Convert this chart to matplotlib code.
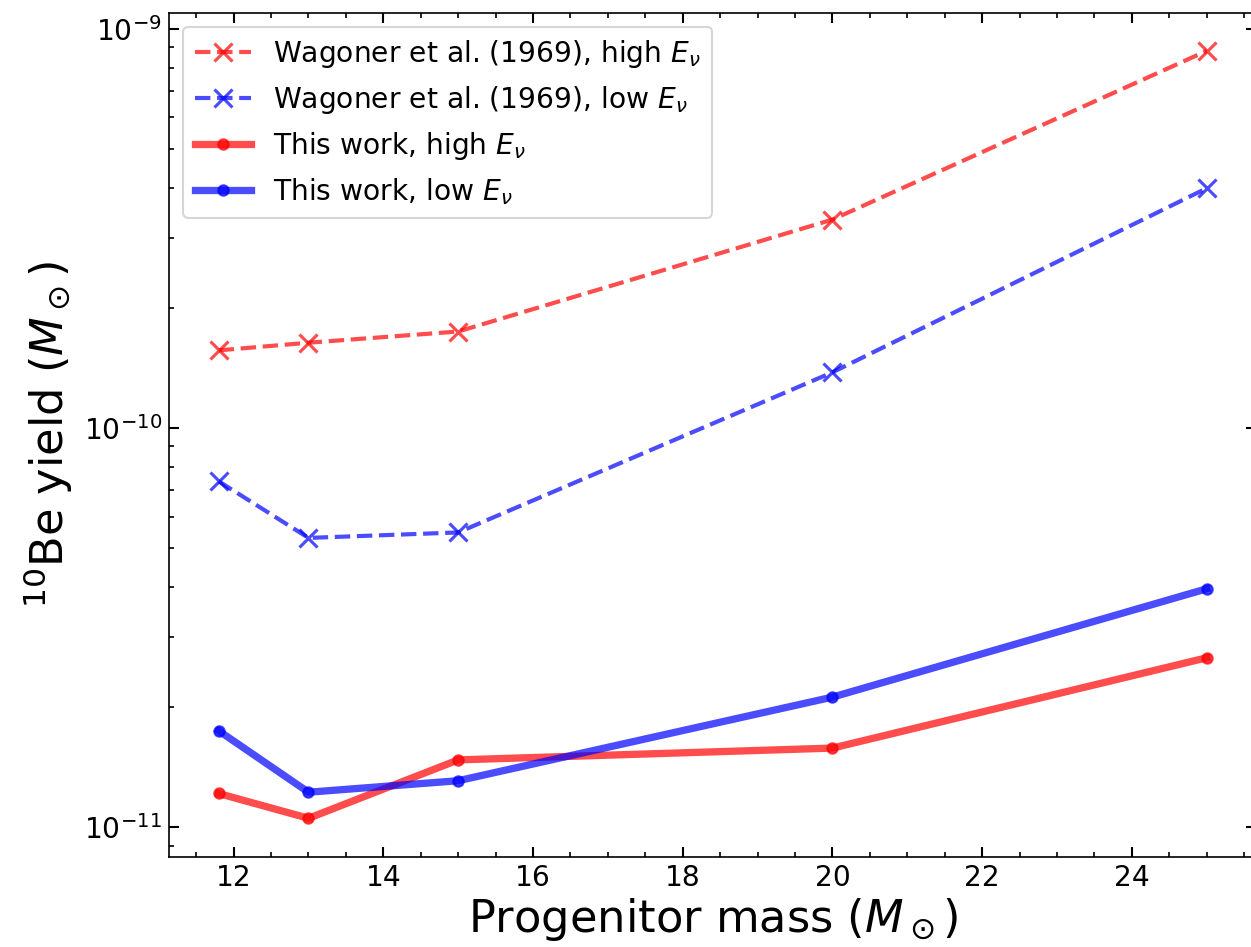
import numpy as np
import matplotlib
matplotlib.use("Agg")
import matplotlib.pyplot as plt
from matplotlib.ticker import MultipleLocator

# progenitor masses (M_sun)
mass = [11.8, 13, 15, 20, 25]

# 10Be yields (M_sun)
wagoner_high = [1.566e-10, 1.637e-10, 1.746e-10, 3.33e-10, 8.81e-10]
wagoner_low = [7.36e-11, 5.31e-11, 5.48e-11, 1.38e-10, 3.99e-10]
this_high = [1.216e-11, 1.054e-11, 1.476e-11, 1.58e-11, 2.66e-11]
this_low = [1.746e-11, 1.225e-11, 1.309e-11, 2.12e-11, 3.96e-11]

fig = plt.figure(figsize=(1252 / 150, 947 / 150), dpi=150)
ax = fig.add_axes([0.1352, 0.0954, 0.8681, 0.8914])

ax.plot(mass, wagoner_high, 'x--', color='red', alpha=0.7, lw=2, ms=9, mew=1.5,
        label=r'Wagoner et al. (1969), high $E_\nu$')
ax.plot(mass, wagoner_low, 'x--', color='blue', alpha=0.7, lw=2, ms=9, mew=1.5,
        label=r'Wagoner et al. (1969), low $E_\nu$')
ax.plot(mass, this_high, 'o-', color='red', alpha=0.7, lw=3.5, ms=5,
        label=r'This work, high $E_\nu$')
ax.plot(mass, this_low, 'o-', color='blue', alpha=0.7, lw=3.5, ms=5,
        label=r'This work, low $E_\nu$')

ax.set_yscale('log')
ax.xaxis.set_minor_locator(MultipleLocator(0.5))
ax.tick_params(which='both', direction='in', top=True, right=True, labelsize=13.5)
ax.tick_params(which='major', length=5, width=1)
ax.tick_params(which='minor', length=2.5, width=0.8)

ax.set_xlabel(r'Progenitor mass ($M_\odot$)', fontsize=21.5, labelpad=2)
ax.set_ylabel(r'$^{10}$Be yield ($M_\odot$)', fontsize=21.5)

ax.legend(loc='upper left', fontsize=13.5)

fig.savefig('out.png', dpi=150)
